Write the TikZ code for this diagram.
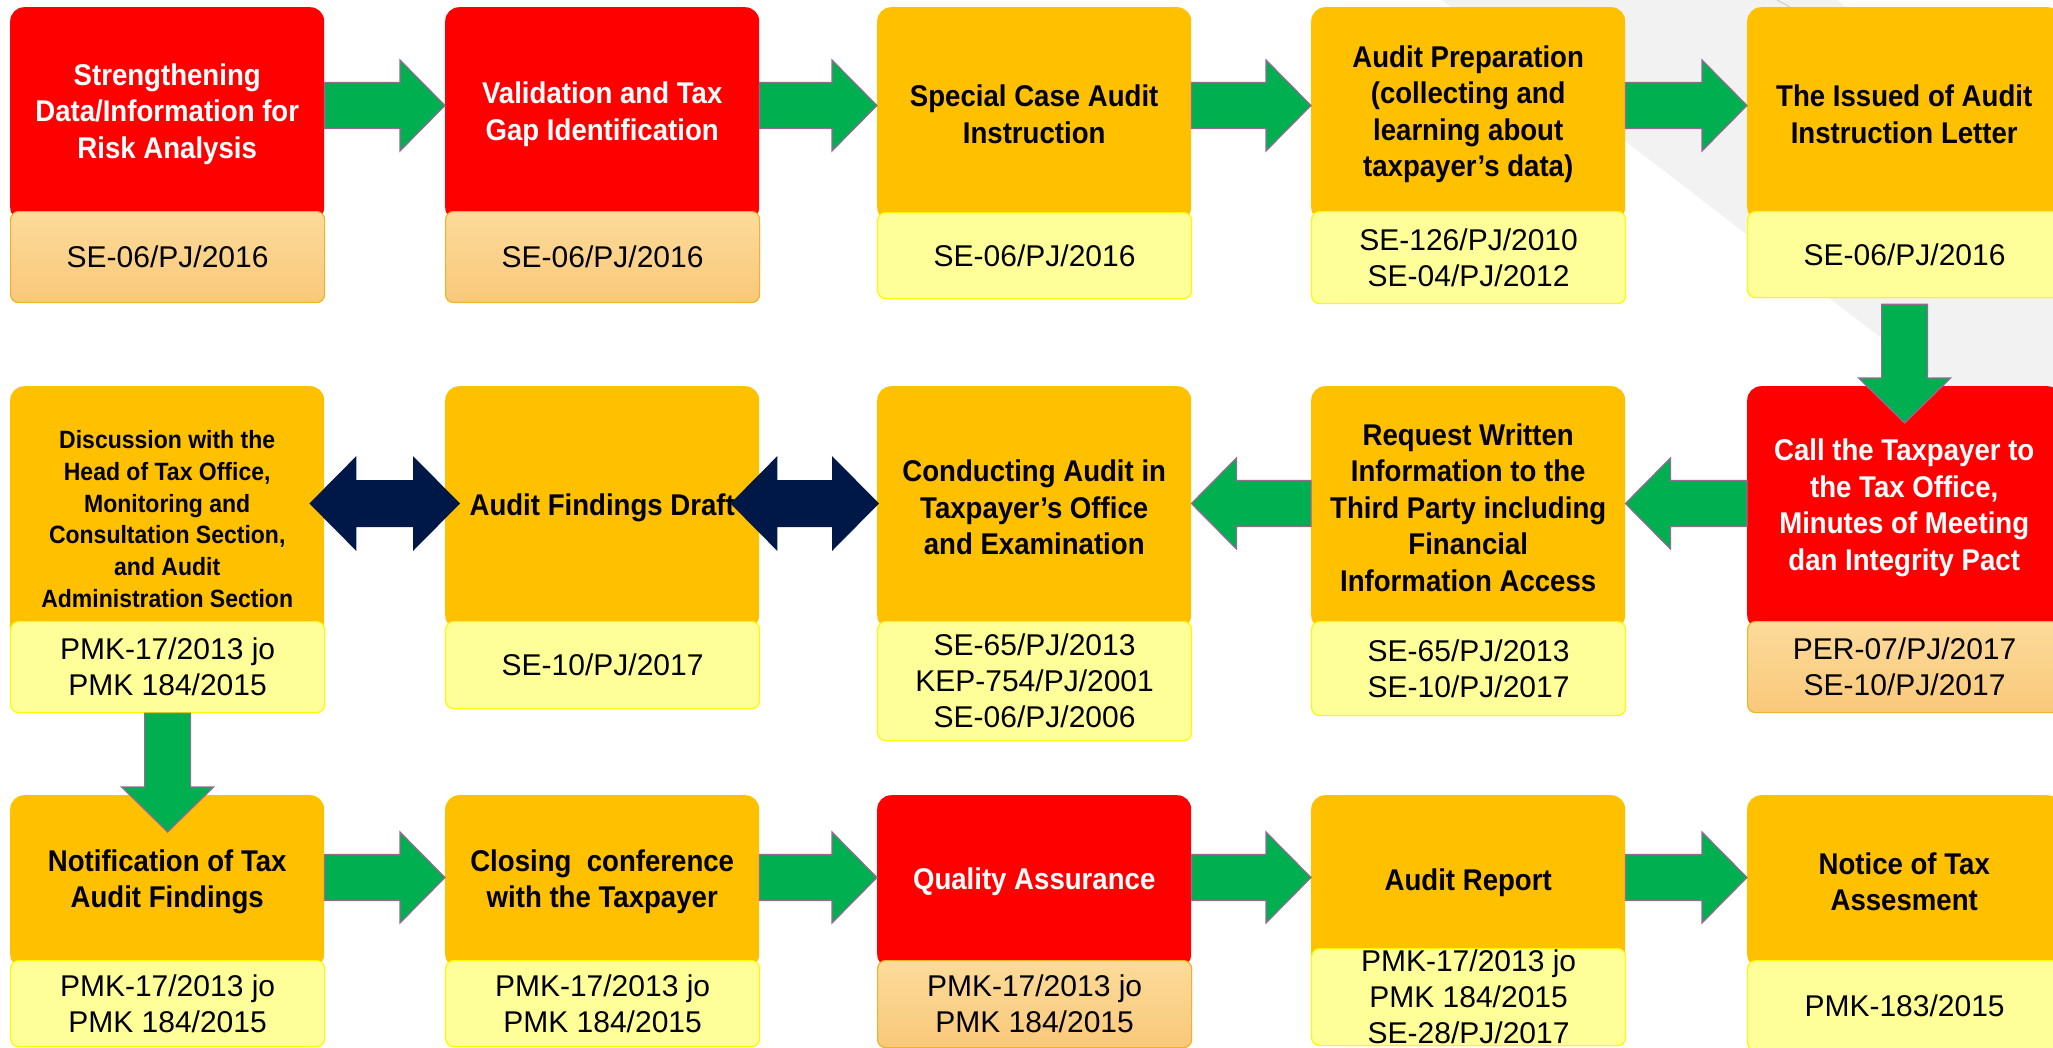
\documentclass[tikz,border=0pt]{standalone}
\usepackage{fontspec}
\setmainfont{Liberation Sans}
\newfontfamily\tfont[FakeStretch=0.92]{Liberation Sans}
\usetikzlibrary{calc}
\definecolor{cred}{RGB}{255,0,0}
\definecolor{corange}{RGB}{255,192,0}
\definecolor{cyel}{RGB}{255,255,153}
\definecolor{cyelb}{RGB}{250,250,0}
\definecolor{copt}{RGB}{252,219,154}
\definecolor{copb}{RGB}{249,200,122}
\definecolor{coborder}{RGB}{240,178,40}
\definecolor{cgreen}{RGB}{0,176,80}
\definecolor{cgb}{RGB}{150,105,150}
\definecolor{cnavy}{RGB}{0,24,72}
\definecolor{cgray}{RGB}{242,242,242}
\definecolor{cgrayline}{RGB}{200,200,200}
\tikzset{
  box/.style={anchor=north west, inner sep=0pt, align=center, rounded corners=14pt, minimum width=314pt},
  mainO/.style={box, fill=corange, font=\tfont\bfseries\fontsize{30}{36.5}\selectfont},
  mainR/.style={mainO, fill=cred, text=white},
  subY/.style={box, rounded corners=8pt, fill=cyel, draw=cyelb, line width=1.2pt, font=\fontsize{30}{36}\selectfont},
  subO/.style={subY, draw=coborder, top color=copt, bottom color=copb},
  garrow/.style={fill=cgreen, draw=cgb, line width=1.2pt, line join=miter},
  narrow/.style={fill=cnavy},
}
% right block arrow: from node, to node, y
\newcommand\rarr[3]{%
  \path[garrow] let \p1=(#1.east), \p2=(#2.west) in
   (\x1,#3+23) -- (\x2-45,#3+23) -- (\x2-45,#3+45.5) -- (\x2,#3) -- (\x2-45,#3-45.5) -- (\x2-45,#3-23) -- (\x1,#3-23) -- cycle;}
% left block arrow: from node (right), to node (left), y
\newcommand\larr[3]{%
  \path[garrow] let \p1=(#1.west), \p2=(#2.east) in
   (\x1,#3+23) -- (\x2+45,#3+23) -- (\x2+45,#3+45.5) -- (\x2,#3) -- (\x2+45,#3-45.5) -- (\x2+45,#3-23) -- (\x1,#3-23) -- cycle;}
% down block arrow: from node, to node, gap below from
\newcommand\darr[3]{%
  \path[garrow] let \p1=(#1.south), \p2=(#2.north) in
   (\x1-23,\y1-#3) -- (\x1-23,\y2+8) -- (\x1-46,\y2+8) -- (\x1,\y2-37) -- (\x1+46,\y2+8) -- (\x1+23,\y2+8) -- (\x1+23,\y1-#3) -- cycle;}
% navy double arrow: left node, right node, left offset, right offset
\newcommand\dblarr[4]{%
  \path[narrow] let \p1=(#1.east), \p2=(#2.west) in
   (\x1-#3,-503.5) -- (\x1-#3+47,-456) -- (\x1-#3+47,-480) -- (\x2+#4-47,-480) -- (\x2+#4-47,-456) -- (\x2+#4,-503.5)
   -- (\x2+#4-47,-551) -- (\x2+#4-47,-527) -- (\x1-#3+47,-527) -- (\x1-#3+47,-551) -- cycle;}
\begin{document}
\begin{tikzpicture}[x=1pt,y=1pt]
\useasboundingbox (0,0) rectangle (2053,-1047);
\clip (0,0) rectangle (2053,-1047);
\fill[white] (0,0) rectangle (2053,-1047);
% background decoration
\fill[cgray] (1442,0) -- (2053,-470) -- (2053,-180) -- (1837,0) -- cycle;
\draw[cgrayline, line width=0.8pt] (1777,0) -- (1805,-15);

% ---------- row 1 ----------
\node[mainR, minimum height=214pt] (m1) at (10,-7) {Strengthening\\Data/Information for\\Risk Analysis};
\node[mainR, minimum height=214pt] (m2) at (445,-7) {Validation and Tax\\Gap Identification};
\node[mainO, minimum height=214pt] (m3) at (877,-7) {Special Case Audit\\Instruction};
\node[mainO, minimum height=214pt] (m4) at (1311,-7) {Audit Preparation\\(collecting and\\learning about\\taxpayer’s data)};
\node[mainO, minimum height=214pt] (m5) at (1747,-7) {The Issued of Audit\\Instruction Letter};
\node[subO, minimum height=91pt] (s1) at (10,-211) {SE-06/PJ/2016};
\node[subO, minimum height=91pt] (s2) at (445,-211) {SE-06/PJ/2016};
\node[subY, minimum height=86pt] (s3) at (877,-212) {SE-06/PJ/2016};
\node[subY, minimum height=92pt] (s4) at (1311,-211) {SE-126/PJ/2010\\SE-04/PJ/2012};
\node[subY, minimum height=86pt] (s5) at (1747,-211) {SE-06/PJ/2016};

% ---------- row 2 ----------
\node[mainO, minimum height=266pt, font=\tfont\bfseries\fontsize{25}{31.7}\selectfont] (m6) at (10,-386)
  {Discussion with the\\Head of Tax Office,\\Monitoring and\\Consultation Section,\\and Audit\\Administration Section};
\node[mainO, minimum height=243pt] (m7) at (445,-386) {Audit Findings Draft};
\node[mainO, minimum height=243pt] (m8) at (877,-386) {Conducting Audit in\\Taxpayer’s Office\\and Examination};
\node[mainO, minimum height=243pt] (m9) at (1311,-386) {Request Written\\Information to the\\Third Party including\\Financial\\Information Access};
\node[mainR, minimum height=243pt] (m10) at (1747,-386) {Call the Taxpayer to\\the Tax Office,\\Minutes of Meeting\\dan Integrity Pact};
\node[subY, minimum height=91pt] (s6) at (10,-621) {PMK-17/2013 jo\\PMK 184/2015};
\node[subY, minimum height=87pt] (s7) at (445,-621) {SE-10/PJ/2017};
\node[subY, minimum height=119pt] (s8) at (877,-621) {SE-65/PJ/2013\\KEP-754/PJ/2001\\SE-06/PJ/2006};
\node[subY, minimum height=94pt] (s9) at (1311,-621) {SE-65/PJ/2013\\SE-10/PJ/2017};
\node[subO, minimum height=91pt] (s10) at (1747,-621) {PER-07/PJ/2017\\SE-10/PJ/2017};

% ---------- row 3 ----------
\node[mainO, minimum height=173pt] (m11) at (10,-795) {Notification of Tax\\Audit Findings};
\node[mainO, minimum height=173pt] (m12) at (445,-795) {Closing~ conference\\with the Taxpayer};
\node[mainR, minimum height=173pt] (m13) at (877,-795) {Quality Assurance};
\node[mainO, minimum height=176pt] (m14) at (1311,-795) {Audit Report};
\node[mainO, minimum height=173pt] (m15) at (1747,-795) {Notice of Tax\\Assesment};
\node[subY, minimum height=86pt] (s11) at (10,-960) {PMK-17/2013 jo\\PMK 184/2015};
\node[subY, minimum height=86pt] (s12) at (445,-960) {PMK-17/2013 jo\\PMK 184/2015};
\node[subO, minimum height=87pt] (s13) at (877,-960) {PMK-17/2013 jo\\PMK 184/2015};
\node[subY, minimum height=97pt] (s14) at (1311,-948) {PMK-17/2013 jo\\PMK 184/2015\\SE-28/PJ/2017};
\node[subY, minimum height=90pt] (s15) at (1747,-960) {PMK-183/2015};

% ---------- connectors ----------
\rarr{m1}{m2}{-105.5}
\rarr{m2}{m3}{-105.5}
\rarr{m3}{m4}{-105.5}
\rarr{m4}{m5}{-105.5}
\darr{s5}{m10}{6}
\larr{m10}{m9}{-503.5}
\larr{m9}{m8}{-503.5}
\dblarr{m7}{m8}{29}{2}
\dblarr{m6}{m7}{15}{15}
\darr{s6}{m11}{0}
\rarr{m11}{m12}{-877.5}
\rarr{m12}{m13}{-877.5}
\rarr{m13}{m14}{-877.5}
\rarr{m14}{m15}{-877.5}
\end{tikzpicture}
\end{document}
